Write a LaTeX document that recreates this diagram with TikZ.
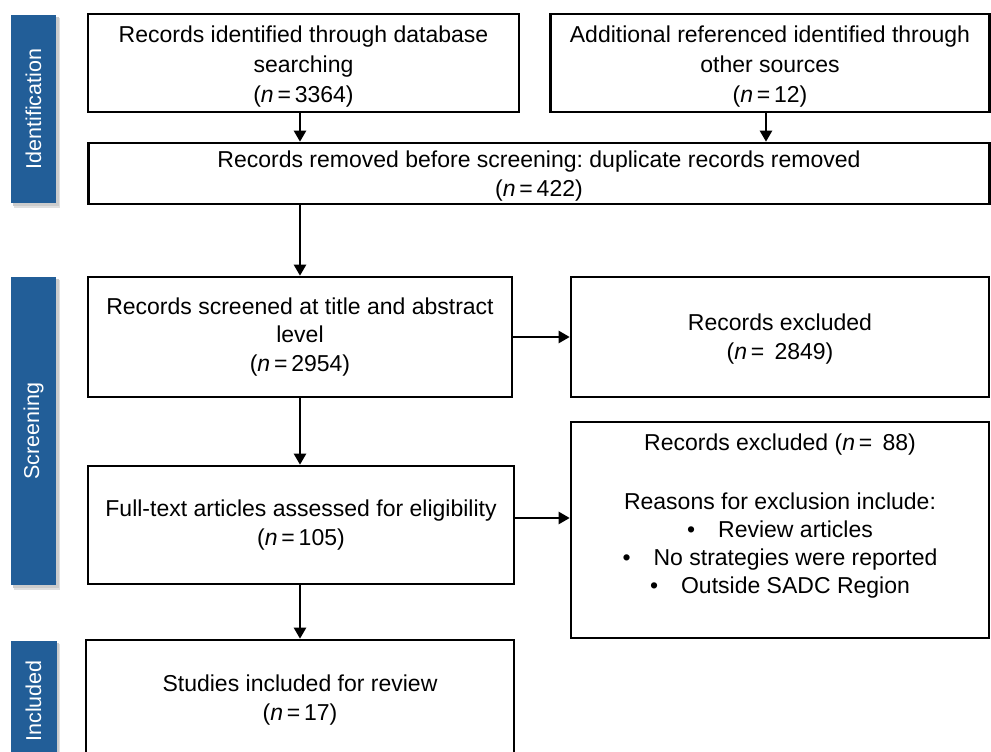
\documentclass[tikz,border=0pt]{standalone}
\usepackage{fontspec}
\setmainfont{Liberation Sans}
\usetikzlibrary{arrows.meta,calc}
\definecolor{barblue}{RGB}{34,94,152}
\begin{document}
\begin{tikzpicture}[x=1pt,y=-1pt,
  box/.style={draw=black, line width=2.6pt, align=center, inner sep=0pt, font=\fontsize{23}{28.5}\selectfont\frenchspacing},
  arr/.style={line width=2.4pt, -{Triangle[length=11pt,width=12pt]}},
  bar/.style={fill=barblue, draw=none, text=white, inner sep=0pt},
  barlabel/.style={text=white, rotate=90, font=\fontsize{21.5}{26}\selectfont}]
\useasboundingbox (0,0) rectangle (991,752);
% side bars with shadows
\foreach \ya/\yb in {15/203, 277/585, 641/770}{
  \fill[black!12] (13.5,\ya+3) rectangle (60,\yb+4.5);
  \fill[black!20] (13,\ya+2) rectangle (58.5,\yb+3);
}
\node[bar, minimum width=45pt, minimum height=188pt] (sid) at (33.5,109) {};
\node[bar, minimum width=45pt, minimum height=308pt] (sscr) at (33.5,431) {};
\node[bar, minimum width=46pt, minimum height=129pt] (sinc) at (33.5,705.5) {};
\node[barlabel] (tid) at (sid.center) {Identification};
\node[barlabel] (tscr) at (sscr.center) {Screening};
\node[barlabel] (tinc) at (33.5,701) {Included};
% boxes
\node[box, minimum width=431pt, minimum height=98pt] (b1) at (303.5,63) {};
\node[align=center, inner sep=0pt, font=\fontsize{23}{30}\selectfont] (t1) at (303.5,67)
  {Records identified through database\\searching\\(\textit{n}\,=\,3364)};
\node[box, minimum width=439pt, minimum height=98pt] (b2) at (770,63) {};
\node[align=center, inner sep=0pt, font=\fontsize{23}{30}\selectfont] (t2) at (770,67)
  {Additional referenced identified through\\other sources\\(\textit{n}\,=\,12)};
\node[box, minimum width=901pt, minimum height=61pt] (b3) at (539,173.5) {};
\node[align=center, inner sep=0pt, font=\fontsize{23}{29}\selectfont\frenchspacing] (t3) at (539,176)
  {Records removed before screening: duplicate records removed\\(\textit{n}\,=\,422)};
\node[box, minimum width=424pt, minimum height=120pt] (b4) at (300,337)
  {Records screened at title and abstract\\level\\(\textit{n}\,=\,2954)};
\node[box, minimum width=418pt, minimum height=120pt] (b5) at (780,337) {};
\node[align=center, inner sep=0pt, font=\fontsize{23}{28.5}\selectfont] (t5) at (780,339)
  {Records excluded\\(\textit{n}\,=\, 2849)};
\node[box, minimum width=426pt, minimum height=118pt] (b6) at (301,525)
  {Full-text articles assessed for eligibility\\(\textit{n}\,=\,105)};
\node[box, minimum width=418pt, minimum height=216pt] (b7) at (780,530) {};
\node[align=center, inner sep=0pt, anchor=north, font=\fontsize{23}{28}\selectfont\frenchspacing] (t7) at (780,434)
  {Records excluded (\textit{n}\,=\, 88)\\[31pt]Reasons for exclusion include:\\
   \textbullet\quad Review articles\\
   \textbullet\quad No strategies were reported\\
   \textbullet\quad Outside SADC Region};
\node[box, minimum width=428pt, minimum height=120pt] (b8) at (300,700)
  {Studies included for review\\(\textit{n}\,=\,17)};
% arrows
\coordinate (xa) at (300,0);
\coordinate (xb) at (766,0);
\draw[arr] (b1.south -| xa) -- (b3.north -| xa);
\draw[arr] (b2.south -| xb) -- (b3.north -| xb);
\draw[arr] (b3.south -| xa) -- (b4.north -| xa);
\draw[arr] (b4.east) -- (b5.west |- b4.east);
\draw[arr] (b4.south -| xa) -- (b6.north -| xa);
\coordinate (y7) at (0,518);
\draw[arr] (b6.east |- y7) -- (b7.west |- y7);
\draw[arr] (b6.south -| xa) -- (b8.north -| xa);
\end{tikzpicture}
\end{document}
